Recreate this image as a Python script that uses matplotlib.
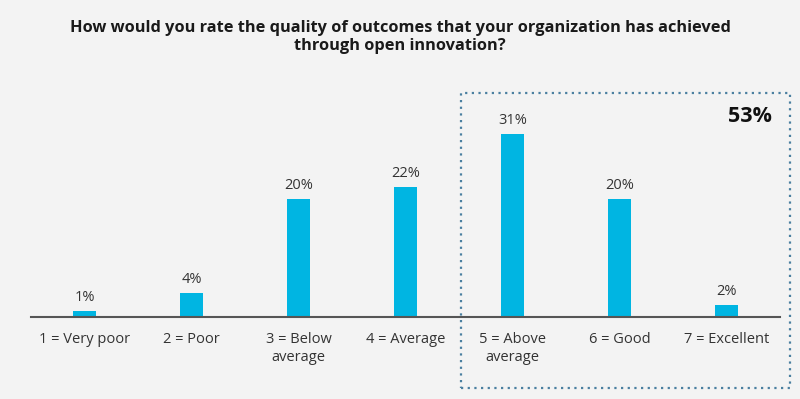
"""Rating distribution of open-innovation outcomes."""
import matplotlib

matplotlib.use("Agg")
import matplotlib.pyplot as plt
from matplotlib.patches import Rectangle

categories = ["1 = Very poor", "2 = Poor", "3 = Below\naverage", "4 = Average",
              "5 = Above\naverage", "6 = Good", "7 = Excellent"]
values = [1, 4, 20, 22, 31, 20, 2]
highlight_total = "53%"
title = ("How would you rate the quality of outcomes that your organization has achieved\n"
         "through open innovation?")

BG = "#f3f3f3"
BAR = "#00b5e2"
TXT = "#333333"

plt.rcParams["font.family"] = ["Open Sans", "DejaVu Sans"]

fig = plt.figure(figsize=(8, 3.99), dpi=100, facecolor=BG)
ax = fig.add_axes([0.03875, 0.2055, 0.93625, 0.5175])
ax.set_facecolor(BG)

x = range(len(values))
bars = ax.bar(x, values, width=0.21, color=BAR)
for xi, v in zip(x, values):
    ax.text(xi, v + 1.1, f"{v}%", ha="center", va="bottom", fontsize=10.5, color=TXT)

ax.set_xlim(-0.5, len(values) - 0.5)
ax.set_ylim(0, 35)
ax.set_xticks(list(x))
ax.set_xticklabels(categories, fontsize=10.5, color=TXT, linespacing=1.25)
ax.tick_params(axis="x", length=0, pad=11)
ax.set_yticks([])
for s in ["top", "right", "left"]:
    ax.spines[s].set_visible(False)
ax.spines["bottom"].set_color("#555555")
ax.spines["bottom"].set_linewidth(1.5)

fig.text(0.5, 0.95, title, ha="center", va="top", fontsize=11.8, fontweight="bold",
         color="#1a1a1a", linespacing=1.15)

# dotted box around the top-3 ratings
box = Rectangle((461 / 800, 1 - 388 / 399), (790 - 461) / 800, (388 - 93) / 399,
                transform=fig.transFigure, fill=False, edgecolor="#4a7fa0",
                linestyle=(0, (1, 2)), linewidth=1.6)
fig.patches.append(box)
fig.text(750 / 800, 1 - 116 / 399, highlight_total, ha="center", va="center",
         fontsize=15.5, fontweight="bold", color="#111111")

fig.savefig("out.png", dpi=100, facecolor=BG)
